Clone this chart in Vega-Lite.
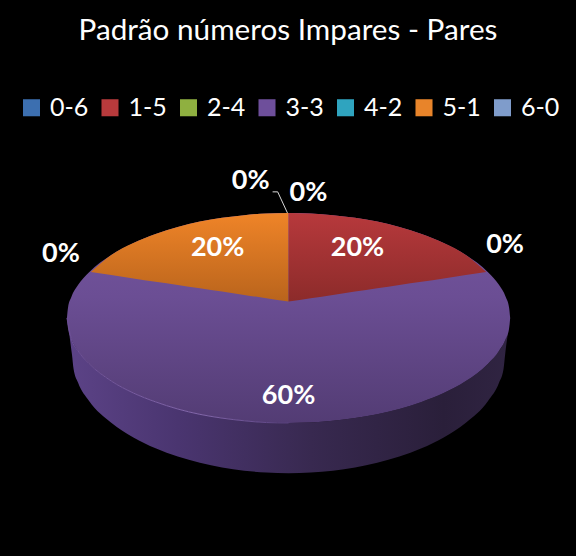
{
  "$schema": "https://vega.github.io/schema/vega-lite/v6.json",
  "width": 576,
  "height": 556,
  "padding": 0,
  "autosize": {"type": "none"},
  "background": "#000000",
  "config": {"view": {"stroke": null}},
  "title": {
    "text": "Padrão números Impares - Pares",
    "anchor": "middle",
    "frame": "group",
    "font": "Lato",
    "fontSize": 29.7,
    "fontWeight": "normal",
    "color": "#ffffff",
    "baseline": "middle",
    "offset": 0,
    "dy": 61
  },
  "datasets": {
    "shares": [
      {"serie": "0-6", "pct": 0},
      {"serie": "1-5", "pct": 20},
      {"serie": "2-4", "pct": 0},
      {"serie": "3-3", "pct": 60},
      {"serie": "4-2", "pct": 0},
      {"serie": "5-1", "pct": 20},
      {"serie": "6-0", "pct": 0}
    ],
    "wall": [
      {"x": -100, "y": 0, "y2": 0},
      {"x": -97.7, "y": -10.1, "y2": -16.7},
      {"x": -97, "y": -11.5, "y2": -23},
      {"x": -95, "y": -14.8, "y2": -29.1},
      {"x": -90, "y": -20.6, "y2": -37.4},
      {"x": -80, "y": -28.4, "y2": -47.2},
      {"x": -70, "y": -33.8, "y2": -53.8},
      {"x": -60, "y": -37.8, "y2": -58.7},
      {"x": -50, "y": -41, "y2": -62.4},
      {"x": -40, "y": -43.4, "y2": -65.2},
      {"x": -30, "y": -45.1, "y2": -67.3},
      {"x": -20, "y": -46.3, "y2": -68.8},
      {"x": -10, "y": -47.1, "y2": -69.6},
      {"x": 0, "y": -47.3, "y2": -69.9},
      {"x": 10, "y": -47.1, "y2": -69.6},
      {"x": 20, "y": -46.3, "y2": -68.8},
      {"x": 30, "y": -45.1, "y2": -67.3},
      {"x": 40, "y": -43.4, "y2": -65.2},
      {"x": 50, "y": -41, "y2": -62.4},
      {"x": 60, "y": -37.8, "y2": -58.7},
      {"x": 70, "y": -33.8, "y2": -53.8},
      {"x": 80, "y": -28.4, "y2": -47.2},
      {"x": 90, "y": -20.6, "y2": -37.4},
      {"x": 95, "y": -14.8, "y2": -29.1},
      {"x": 97, "y": -11.5, "y2": -23},
      {"x": 97.7, "y": -10.1, "y2": -16.7},
      {"x": 100, "y": 0, "y2": 0}
    ],
    "face": [
      {"x": -100, "y": 0, "y2": 0},
      {"x": -99.5, "y": 4.7, "y2": -4.7},
      {"x": -98, "y": 9.4, "y2": -9.4},
      {"x": -95, "y": 14.8, "y2": -14.8},
      {"x": -90, "y": 20.6, "y2": -20.6},
      {"x": -80, "y": 28.4, "y2": -28.4},
      {"x": -70, "y": 33.8, "y2": -33.8},
      {"x": -60, "y": 37.8, "y2": -37.8},
      {"x": -50, "y": 41, "y2": -41},
      {"x": -40, "y": 43.4, "y2": -43.4},
      {"x": -30, "y": 45.1, "y2": -45.1},
      {"x": -20, "y": 46.3, "y2": -46.3},
      {"x": -10, "y": 47.1, "y2": -47.1},
      {"x": 0, "y": 47.3, "y2": -47.3},
      {"x": 10, "y": 47.1, "y2": -47.1},
      {"x": 20, "y": 46.3, "y2": -46.3},
      {"x": 30, "y": 45.1, "y2": -45.1},
      {"x": 40, "y": 43.4, "y2": -43.4},
      {"x": 50, "y": 41, "y2": -41},
      {"x": 60, "y": 37.8, "y2": -37.8},
      {"x": 70, "y": 33.8, "y2": -33.8},
      {"x": 80, "y": 28.4, "y2": -28.4},
      {"x": 90, "y": 20.6, "y2": -20.6},
      {"x": 95, "y": 14.8, "y2": -14.8},
      {"x": 98, "y": 9.4, "y2": -9.4},
      {"x": 99.5, "y": 4.7, "y2": -4.7},
      {"x": 100, "y": 0, "y2": 0}
    ],
    "orange": [
      {"x": -89.2, "y": 20.7, "y2": 20.7},
      {"x": -80, "y": 28.4, "y2": 19.3},
      {"x": -70, "y": 33.8, "y2": 17.8},
      {"x": -60, "y": 37.8, "y2": 16.3},
      {"x": -50, "y": 41, "y2": 14.9},
      {"x": -40, "y": 43.4, "y2": 13.4},
      {"x": -30, "y": 45.1, "y2": 11.9},
      {"x": -20, "y": 46.3, "y2": 10.4},
      {"x": -10, "y": 47.1, "y2": 8.9},
      {"x": 0, "y": 47.3, "y2": 7.4}
    ],
    "red": [
      {"x": 0, "y": 47.3, "y2": 7.4},
      {"x": 10, "y": 47.1, "y2": 8.9},
      {"x": 20, "y": 46.3, "y2": 10.4},
      {"x": 30, "y": 45.1, "y2": 11.9},
      {"x": 40, "y": 43.4, "y2": 13.4},
      {"x": 50, "y": 41, "y2": 14.9},
      {"x": 60, "y": 37.8, "y2": 16.3},
      {"x": 70, "y": 33.8, "y2": 17.8},
      {"x": 80, "y": 28.4, "y2": 19.3},
      {"x": 89.2, "y": 20.7, "y2": 20.7}
    ],
    "rimlight": [
      {"x": -100, "y": 0},
      {"x": -98, "y": -9.4},
      {"x": -95, "y": -14.8},
      {"x": -90, "y": -20.6},
      {"x": -80, "y": -28.4},
      {"x": -70, "y": -33.8},
      {"x": -60, "y": -37.8},
      {"x": -50, "y": -41},
      {"x": -40, "y": -43.4},
      {"x": -30, "y": -45.1},
      {"x": -20, "y": -46.3},
      {"x": -10, "y": -47.1},
      {"x": 0, "y": -47.3}
    ],
    "leader": [
      {"x": -7.2, "y": 56.8},
      {"x": -4.9, "y": 56.8},
      {"x": -0.5, "y": 47.3}
    ],
    "labels": [
      {"text": "0%", "x": -17.1, "y": 61.7},
      {"text": "0%", "x": 9, "y": 56.3},
      {"text": "0%", "x": 97.7, "y": 32.9},
      {"text": "0%", "x": -102.7, "y": 28.8},
      {"text": "20%", "x": -32, "y": 31.5},
      {"text": "20%", "x": 31.1, "y": 31.5},
      {"text": "60%", "x": 0, "y": -35.1}
    ]
  },
  "data": {"name": "shares"},
  "encoding": {
    "x": {"field": "x", "type": "quantitative", "axis": null, "scale": {"domain": [-130.2, 129.7], "nice": false, "zero": false}},
    "y": {"field": "y", "type": "quantitative", "axis": null, "scale": {"domain": [-107.2, 143.2], "nice": false, "zero": false}}
  },
  "layer": [
    {
      "data": {"name": "shares"},
      "mark": {"type": "point", "filled": true, "size": 0, "shape": "square"},
      "encoding": {
        "x": {"datum": 0},
        "y": {"datum": 0},
        "color": {
          "field": "serie",
          "type": "nominal",
          "scale": {"domain": ["0-6", "1-5", "2-4", "3-3", "4-2", "5-1", "6-0"], "range": ["#3c6fb0", "#b83a3c", "#8fb040", "#6e4f9b", "#2fa4bf", "#e8842a", "#7f9ccb"]},
          "legend": {
            "orient": "none",
            "legendX": 19,
            "legendY": 95,
            "direction": "horizontal",
            "columns": 7,
            "title": null,
            "symbolType": "square",
            "symbolSize": 290,
            "symbolOpacity": 1,
            "symbolStrokeWidth": 0,
            "labelFont": "Lato",
            "labelFontSize": 25,
            "labelColor": "#ffffff",
            "labelOffset": 6,
            "columnPadding": 8.5,
            "gridAlign": "all"
          }
        }
      }
    },
    {
      "data": {"name": "wall"},
      "mark": {
        "type": "area",
        "orient": "vertical",
        "interpolate": "monotone",
        "color": {
          "gradient": "linear", "x1": 0, "y1": 0, "x2": 1, "y2": 0,
          "stops": [
            {"offset": 0, "color": "#5c4387"},
            {"offset": 0.25, "color": "#4a3570"},
            {"offset": 0.55, "color": "#382950"},
            {"offset": 0.85, "color": "#2a1f3a"},
            {"offset": 1, "color": "#302442"}
          ]
        }
      },
      "encoding": {"y2": {"field": "y2"}}
    },
    {
      "data": {"name": "face"},
      "mark": {
        "type": "area",
        "orient": "vertical",
        "interpolate": "monotone",
        "color": {
          "gradient": "linear", "x1": 0, "y1": 0, "x2": 0, "y2": 1,
          "stops": [
            {"offset": 0, "color": "#75559f"},
            {"offset": 0.4, "color": "#6b4e94"},
            {"offset": 1, "color": "#533c74"}
          ]
        }
      },
      "encoding": {"y2": {"field": "y2"}}
    },
    {
      "data": {"name": "rimlight"},
      "mark": {
        "type": "line",
        "interpolate": "monotone",
        "strokeWidth": 1,
        "stroke": {
          "gradient": "linear", "x1": 0, "y1": 0, "x2": 1, "y2": 0,
          "stops": [
            {"offset": 0, "color": "#6b4e94"},
            {"offset": 0.6, "color": "#8468ad"},
            {"offset": 1, "color": "#5a4280"}
          ]
        }
      }
    },
    {
      "data": {"name": "orange"},
      "mark": {
        "type": "area",
        "orient": "vertical",
        "interpolate": "monotone",
        "color": {
          "gradient": "linear", "x1": 0, "y1": 0, "x2": 0, "y2": 1,
          "stops": [
            {"offset": 0, "color": "#ef8428"},
            {"offset": 1, "color": "#b9641c"}
          ]
        }
      },
      "encoding": {"y2": {"field": "y2"}}
    },
    {
      "data": {"name": "red"},
      "mark": {
        "type": "area",
        "orient": "vertical",
        "interpolate": "monotone",
        "color": {
          "gradient": "linear", "x1": 0, "y1": 0, "x2": 0, "y2": 1,
          "stops": [
            {"offset": 0, "color": "#b7393c"},
            {"offset": 1, "color": "#8c2b2a"}
          ]
        }
      },
      "encoding": {"y2": {"field": "y2"}}
    },
    {
      "data": {"name": "leader"},
      "mark": {"type": "line", "stroke": "#d9d9d9", "strokeWidth": 1}
    },
    {
      "data": {"name": "labels"},
      "mark": {"type": "text", "font": "Lato", "fontSize": 27, "fontWeight": "bold", "color": "#ffffff", "baseline": "middle", "align": "center"},
      "encoding": {"text": {"field": "text"}}
    }
  ]
}
